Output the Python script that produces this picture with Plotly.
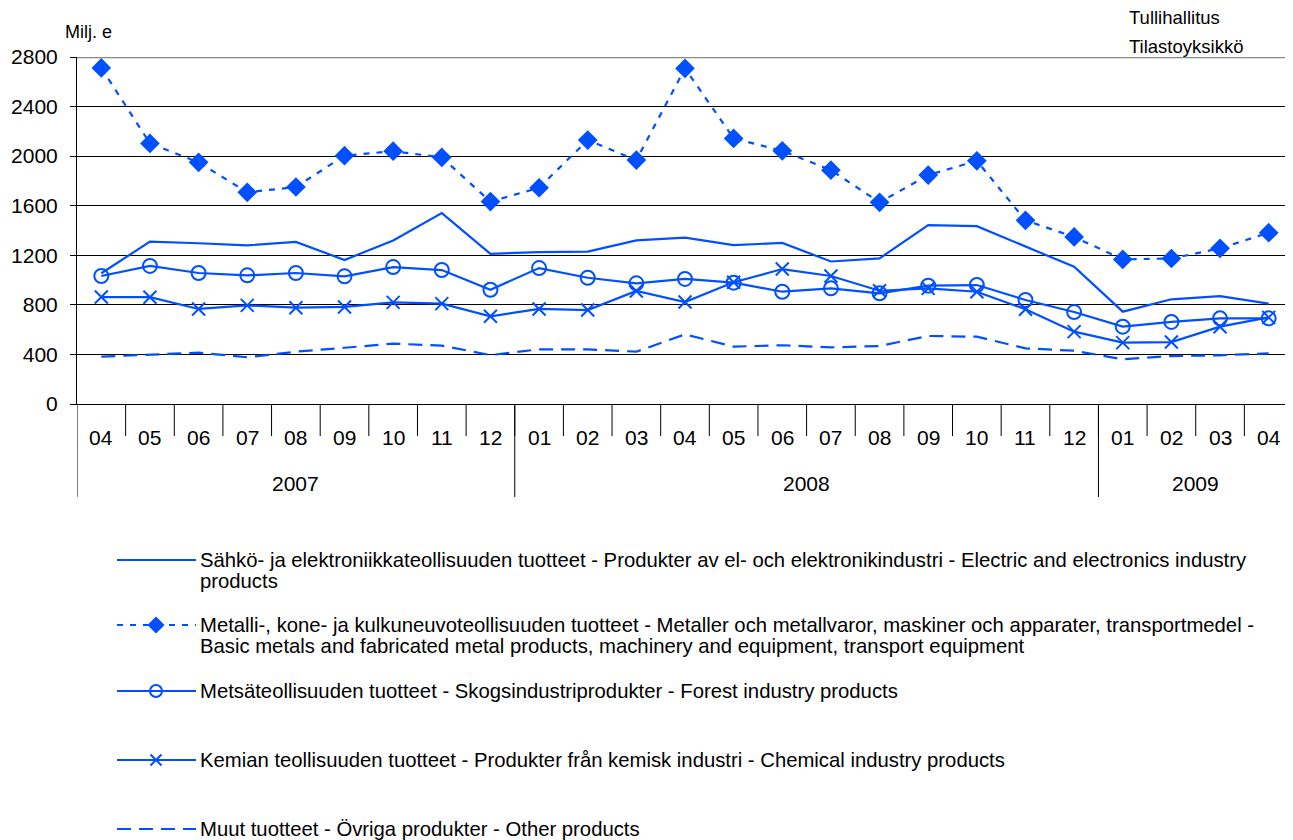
import plotly.graph_objects as go

# page body has an 8px default margin; work in screen pixels and shift
OFF = 8
W, H = 1293 - OFF, 840 - OFF

months = ["04", "05", "06", "07", "08", "09", "10", "11", "12",
          "01", "02", "03", "04", "05", "06", "07", "08", "09", "10", "11", "12",
          "01", "02", "03", "04"]
year_labels = ["2007", "2008", "2009"]
year_first = [0, 9, 21]
year_last = [8, 20, 24]

electronics = [1055, 1310, 1297, 1280, 1308, 1162, 1320, 1540, 1212, 1225, 1230, 1320, 1342,
               1282, 1300, 1150, 1175, 1443, 1435, 1270, 1107, 745, 845, 870, 810]
metal = [2712, 2103, 1950, 1708, 1751, 2004, 2040, 1990, 1633, 1745, 2130, 1968, 2708,
         2143, 2043, 1887, 1627, 1847, 1962, 1482, 1348, 1167, 1174, 1256, 1382]
forest = [1033, 1114, 1057, 1038, 1057, 1030, 1105, 1081, 922, 1097, 1019, 974, 1009,
          979, 906, 933, 893, 955, 960, 839, 742, 624, 662, 691, 691]
chemical = [863, 862, 767, 796, 777, 783, 820, 810, 708, 767, 758, 912, 823,
            982, 1089, 1033, 914, 933, 906, 764, 584, 495, 500, 624, 699]
other = [382, 401, 414, 377, 422, 454, 487, 471, 395, 441, 441, 422, 562,
         463, 474, 457, 468, 549, 543, 449, 430, 361, 387, 393, 409]

names = [
    ["Sähkö- ja elektroniikkateollisuuden tuotteet - Produkter av el- och elektronikindustri - Electric and electronics industry",
     "products"],
    ["Metalli-, kone- ja kulkuneuvoteollisuuden tuotteet - Metaller och metallvaror, maskiner och apparater, transportmedel -",
     "Basic metals and fabricated metal products, machinery and equipment, transport equipment"],
    ["Metsäteollisuuden tuotteet - Skogsindustriprodukter - Forest industry products"],
    ["Kemian teollisuuden tuotteet - Produkter från kemisk industri - Chemical industry products"],
    ["Muut tuotteet - Övriga produkter - Other products"],
]

BLUE = "#0050FF"
FONT = "Liberation Sans, Arial, sans-serif"

series = [
    dict(y=electronics, dash="solid", symbol=None, size=0),
    dict(y=metal, dash="6px,7px", symbol="diamond", size=13),
    dict(y=forest, dash="solid", symbol="circle-open", size=14),
    dict(y=chemical, dash="solid", symbol="x-thin-open", size=13),
    dict(y=other, dash="14px,8px", symbol=None, size=0),
]

x = list(range(len(months)))


def sx(v):
    return v - OFF


def sy(v):
    return v - OFF


# plot area in screen pixels
PL, PR, PT, PB = 77, 1293, 57, 404

fig = go.Figure()

for s, nm in zip(series, names):
    fig.add_trace(go.Scatter(
        x=x, y=s["y"], mode="lines+markers" if s["symbol"] else "lines",
        line=dict(color=BLUE, width=2.2, dash=s["dash"]),
        marker=dict(symbol=s["symbol"] or "circle", size=s["size"], color=BLUE,
                    line=dict(color=BLUE, width=2)),
        name=nm[0], showlegend=False, xaxis="x", yaxis="y"))

# manual legend (pixel coordinate overlay axes)
leg_y = [560, 625, 691, 760, 829]
for s, nm, ly in zip(series, names, leg_y):
    fig.add_trace(go.Scatter(
        x=[sx(117), sx(196)], y=[sy(ly), sy(ly)], mode="lines",
        line=dict(color=BLUE, width=2.2, dash=s["dash"]),
        showlegend=False, hoverinfo="skip", xaxis="x2", yaxis="y2"))
    if s["symbol"]:
        fig.add_trace(go.Scatter(
            x=[sx(156)], y=[sy(ly)], mode="markers",
            marker=dict(symbol=s["symbol"], size=s["size"] - 2, color=BLUE,
                        line=dict(color=BLUE, width=2)),
            showlegend=False, hoverinfo="skip", xaxis="x2", yaxis="y2"))
    for k, line in enumerate(nm):
        fig.add_annotation(x=sx(198), y=sy(ly + 21 * k), xref="x2", yref="y2", text=line,
                           showarrow=False, xanchor="left", yanchor="middle",
                           font=dict(size=20.3, color="black", family=FONT))

annotations = []
shapes = []

# month labels and separators
for i, m in enumerate(months):
    annotations.append(dict(x=i, y=sy(437), xref="x", yref="y2", text=m, showarrow=False,
                            xanchor="center", yanchor="middle",
                            font=dict(size=21, color="black", family=FONT)))
for i in range(len(months) - 1):
    shapes.append(dict(type="line", x0=i + 0.5, x1=i + 0.5, y0=sy(PB), y1=sy(436),
                       xref="x", yref="y2", line=dict(color="black", width=1)))
# year labels and separators
for lab, a, b in zip(year_labels, year_first, year_last):
    annotations.append(dict(x=(a + b) / 2, y=sy(483), xref="x", yref="y2", text=lab,
                            showarrow=False, xanchor="center", yanchor="middle",
                            font=dict(size=21, color="black", family=FONT)))
    shapes.append(dict(type="line", x0=a - 0.5, x1=a - 0.5, y0=sy(PB), y1=sy(497),
                       xref="x", yref="y2", line=dict(color="black", width=1)))

# top border in grey
shapes.append(dict(type="line", x0=0, x1=1, xref="x domain", y0=2800, y1=2800, yref="y",
                   line=dict(color="#888888", width=2.5)))

annotations.append(dict(x=sx(63), y=sy(32), xref="x2", yref="y2", text="Milj. e",
                        showarrow=False, xanchor="left", yanchor="middle",
                        font=dict(size=18, color="black", family=FONT)))
annotations.append(dict(x=sx(1127), y=sy(17), xref="x2", yref="y2", text="Tullihallitus",
                        showarrow=False, xanchor="left", yanchor="middle",
                        font=dict(size=18.5, color="black", family=FONT)))
annotations.append(dict(x=sx(1127), y=sy(46), xref="x2", yref="y2", text="Tilastoyksikkö",
                        showarrow=False, xanchor="left", yanchor="middle",
                        font=dict(size=18.5, color="black", family=FONT)))

for a in annotations:
    fig.add_annotation(**a)

fig.update_layout(
    template="none",
    width=W, height=H,
    margin=dict(l=0, r=0, t=0, b=0, pad=0, autoexpand=False),
    paper_bgcolor="white", plot_bgcolor="rgba(0,0,0,0)",
    font=dict(family=FONT, color="black"),
    showlegend=False,
    shapes=shapes,
    xaxis=dict(domain=[sx(PL) / W, 1], range=[-0.5, len(months) - 0.5],
               showticklabels=False, showgrid=False, zeroline=False, automargin=False,
               showline=True, linecolor="black", linewidth=1, ticks="", anchor="y",
               fixedrange=True),
    yaxis=dict(domain=[(H - sy(PB)) / H, (H - sy(PT)) / H], range=[0, 2800], dtick=400,
               tick0=0, showgrid=True, gridcolor="black", gridwidth=1, zeroline=False,
               showline=True, linecolor="black", linewidth=1, ticks="outside",
               ticklen=6, tickcolor="black", ticklabelstandoff=8, automargin=False,
               tickfont=dict(size=21, color="black", family=FONT), anchor="x",
               fixedrange=True),
    xaxis2=dict(domain=[0, 1], range=[0, W], visible=False, anchor="y2",
                automargin=False, fixedrange=True),
    yaxis2=dict(domain=[0, 1], range=[H, 0], visible=False, anchor="x2",
                automargin=False, fixedrange=True),
)

fig.write_html("out.html")
